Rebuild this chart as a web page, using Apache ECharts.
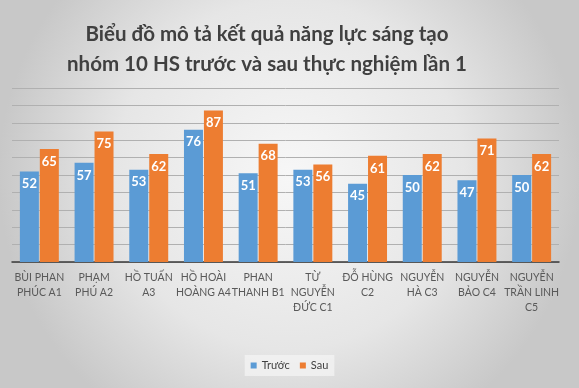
<!DOCTYPE html>
<html><head><meta charset="utf-8">
<script src="https://cdn.jsdelivr.net/npm/echarts@6/dist/echarts.min.js"></script>
<style>html,body{margin:0;padding:0;background:#fff}#c{width:579px;height:388px}</style>
</head><body><div id="c"></div>
<script>
const categories = ["BÙI PHAN\nPHÚC A1","PHẠM\nPHÚ A2","HỒ TUẤN\nA3","HỒ HOÀI\nHOÀNG A4","PHAN\nTHANH B1","TỪ\nNGUYỄN\nĐỨC C1","ĐỖ HÙNG\nC2","NGUYỄN\nHÀ C3","NGUYỄN\nBẢO C4","NGUYỄN\nTRẦN LINH\nC5"];
const truoc = [52,57,53,76,51,53,45,50,47,50];
const sau = [65,75,62,87,68,56,61,62,71,62];
const seriesNames = ["Trước","Sau"];
const titleText = "Biểu đồ mô tả kết quả năng lực sáng tạo\nnhóm 10 HS trước và sau thực nghiệm lần 1";

const chart = echarts.init(document.getElementById('c'));
const lbl = {show:true, position:'insideTop', distance:6, color:'#fff', fontFamily:'Lato', fontWeight:'bold', fontSize:13};
chart.setOption({
  backgroundColor:{type:'radial',x:0.5,y:0.45,r:0.75,colorStops:[{offset:0,color:'#f7f7f7'},{offset:0.6,color:'#e6e6e6'},{offset:1,color:'#c8c8c8'}]},
  title:{text:titleText,left:262,textAlign:'center',top:14,textStyle:{fontFamily:'Lato',fontWeight:'bold',fontSize:20.5,color:'#404040',lineHeight:30}},
  legend:{bottom:12,left:'center',itemWidth:6,itemHeight:6,itemGap:10,icon:'rect',backgroundColor:'rgba(245,245,245,0.7)',padding:[5,6],textStyle:{fontFamily:'Lato',fontSize:11,color:'#404040'},data:seriesNames},
  grid:{left:12,right:20,top:88,bottom:126},
  xAxis:{type:'category',data:categories,axisTick:{show:false},axisLine:{lineStyle:{color:'#3a3a3a',width:1.5}},
    axisLabel:{interval:0,color:'#595959',fontFamily:'Lato',fontSize:10.5,lineHeight:15,margin:8}},
  yAxis:{type:'value',min:0,max:100,interval:10,axisLabel:{show:false},axisLine:{show:false},axisTick:{show:false},
    splitLine:{lineStyle:{color:'#b0b0b0',width:1}}},
  series:[
    {name:seriesNames[0],type:'bar',data:truoc,itemStyle:{color:'#5B9BD5'},barWidth:19,barGap:'5%',label:lbl},
    {name:seriesNames[1],type:'bar',data:sau,itemStyle:{color:'#ED7D31'},barWidth:19,label:lbl}
  ]
});
</script></body></html>
